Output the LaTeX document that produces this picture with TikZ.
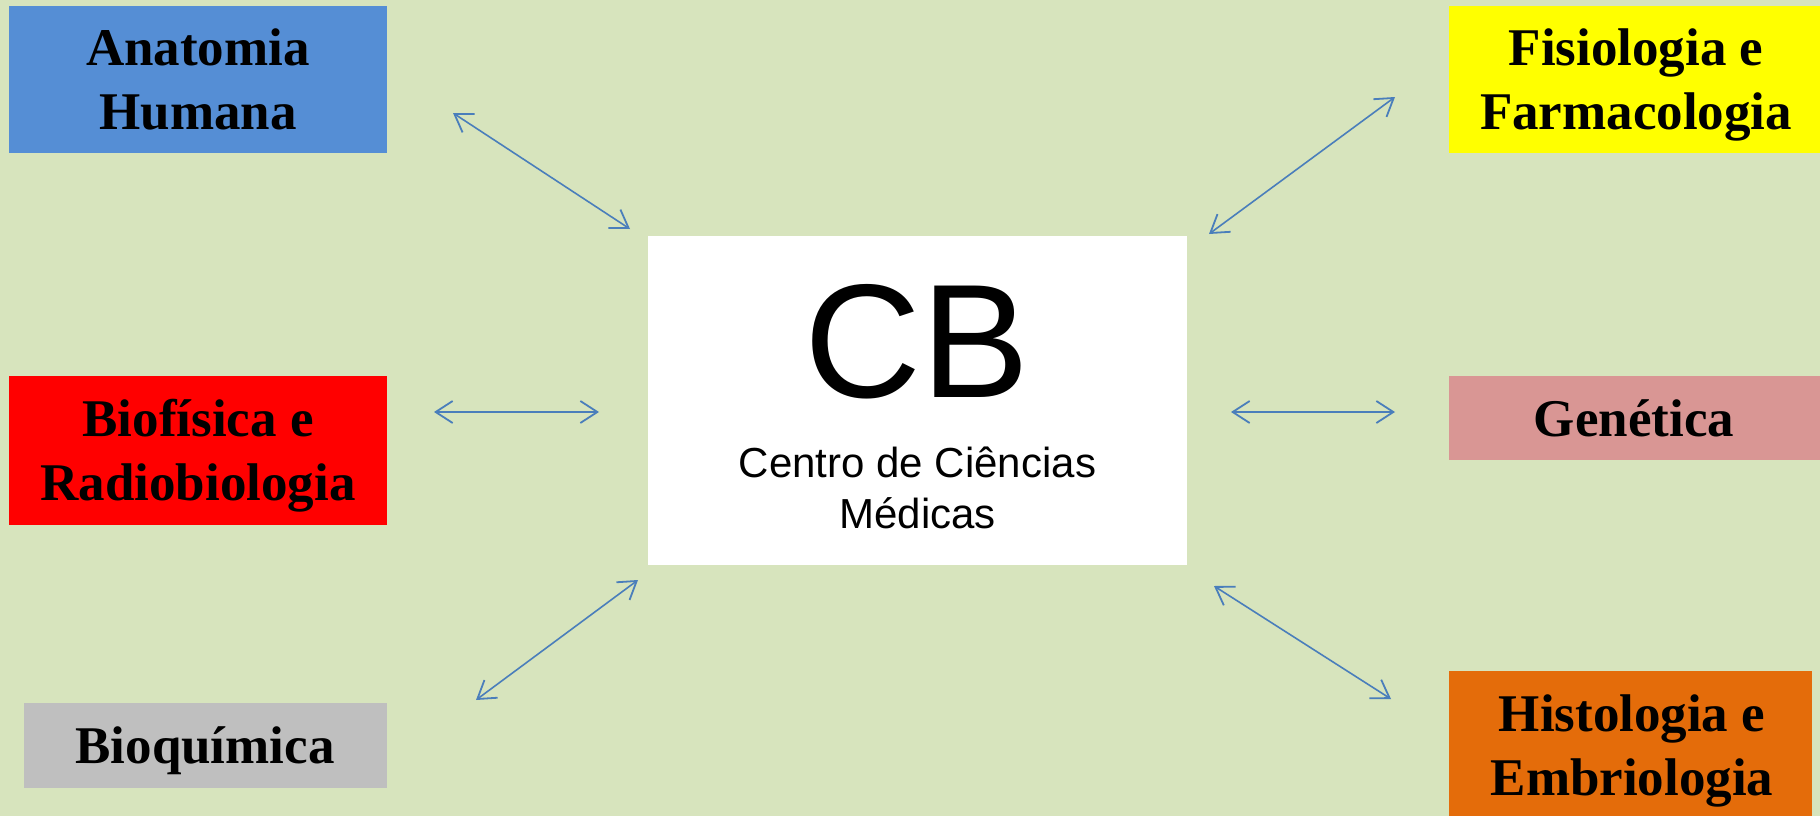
\documentclass[tikz,border=0pt]{standalone}
\usepackage{fontspec}
\setmainfont{Liberation Serif}
\newfontfamily\arialf{Liberation Sans}
\usetikzlibrary{arrows.meta}
\definecolor{bgc}{HTML}{D7E4BD}
\definecolor{anatc}{HTML}{558ED5}
\definecolor{fisic}{HTML}{FFFF00}
\definecolor{biofc}{HTML}{FF0000}
\definecolor{genc}{HTML}{D99694}
\definecolor{bioqc}{HTML}{BFBFBF}
\definecolor{histc}{HTML}{E46C0A}
\definecolor{arrc}{HTML}{4A7EBB}
\tikzset{
  boxr/.style={rectangle, inner sep=0pt, outer sep=0pt, draw=none},
  lbl/.style={anchor=base, align=center, inner sep=0pt, font=\bfseries\fontsize{53}{64}\selectfont},
  conn/.style={draw=arrc, line width=1.6pt, {Straight Barb[length=17pt,width=22pt,line width=1.8pt]}-{Straight Barb[length=17pt,width=22pt,line width=1.8pt]}}
}
\begin{document}
\begin{tikzpicture}[x=1pt,y=-1pt]
\fill[bgc] (0,0) rectangle (1820,816);
\useasboundingbox (0,0) rectangle (1820,816);
% boxes
\node[boxr, fill=anatc, minimum width=378pt, minimum height=147pt] (anat) at (198,79.5) {};
\node[boxr, fill=fisic, minimum width=371pt, minimum height=147pt] (fisi) at (1634.5,79.5) {};
\node[boxr, fill=biofc, minimum width=378pt, minimum height=149pt] (biof) at (198,450) {};
\node[boxr, fill=genc, minimum width=371pt, minimum height=84pt] (gen) at (1634.5,418) {};
\node[boxr, fill=bioqc, minimum width=363pt, minimum height=85pt] (bioq) at (205.5,745.5) {};
\node[boxr, fill=histc, minimum width=363pt, minimum height=145pt] (hist) at (1630.5,743.5) {};
\node[boxr, fill=white, minimum width=539pt, minimum height=329pt] (cb) at (917.5,400) {};
% labels (base anchor = baseline of the last line)
\node[lbl] (anatT) at (198,129) {Anatomia\\Humana};
\node[lbl] (fisiT) at (1636,129) {Fisiologia e\\Farmacologia};
\node[lbl] (biofT) at (198,500) {Biofísica e\\Radiobiologia};
\node[lbl] (genT) at (1634,436) {Genética};
\node[lbl] (bioqT) at (205,763) {Bioquímica};
\node[lbl] (histT) at (1632,795) {Histologia e\\Embriologia};
\node[anchor=base, inner sep=0pt, font=\arialf\fontsize{162}{162}\selectfont] (cbT) at (917.5,397) {CB};
\node[anchor=base, inner sep=0pt, font=\arialf\fontsize{42}{51}\selectfont] (cbL1) at (917.5,477) {Centro de Ciências};
\node[anchor=base, inner sep=0pt, font=\arialf\fontsize{42}{51}\selectfont] (cbL2) at (917.5,528) {Médicas};
% connector end points
\coordinate (a1) at (453,113); \coordinate (a2) at (630,229);
\coordinate (b1) at (1395,97); \coordinate (b2) at (1209,234);
\coordinate (c1) at (434,412); \coordinate (c2) at (599,412);
\coordinate (d1) at (1231,412); \coordinate (d2) at (1395,412);
\coordinate (e1) at (638,580); \coordinate (e2) at (476,700);
\coordinate (f1) at (1214,586); \coordinate (f2) at (1391,699);
\draw[conn] (a1) -- (a2);
\draw[conn] (b1) -- (b2);
\draw[conn] (c1) -- (c2);
\draw[conn] (d1) -- (d2);
\draw[conn] (e1) -- (e2);
\draw[conn] (f1) -- (f2);
\end{tikzpicture}
\end{document}
